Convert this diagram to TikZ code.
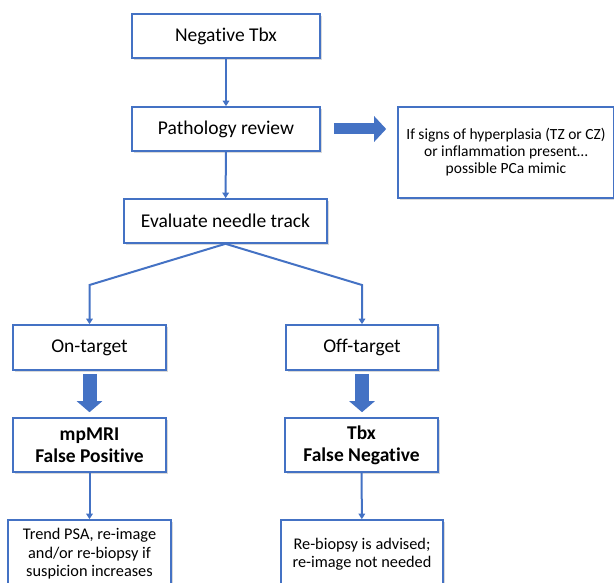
\documentclass[tikz,border=0pt]{standalone}
\usepackage{fontspec}
\setmainfont{Carlito}[Ligatures={NoCommon}]
\usepackage{tikz}
\usetikzlibrary{arrows.meta,shadows}
\definecolor{boxblue}{RGB}{68,114,196}

\begin{document}
\begin{tikzpicture}[x=1pt,y=-1pt,
    stepbox/.style={draw=boxblue, line width=1.6pt, fill=white, inner sep=0pt,
      align=center, font=\fontsize{19.5}{22}\selectfont,
      drop shadow={shadow xshift=1.6pt, shadow yshift=-1.6pt, opacity=0.3}},
    notebox/.style={stepbox, font=\fontsize{15.5}{17}\selectfont},
    thinarrow/.style={draw=boxblue, line width=2pt, -{Triangle[width=6.5pt,length=5.5pt]}},
    fatarrow/.style={draw=boxblue, line width=14pt, -{Triangle[width=25pt,length=11pt]}}]
        \useasboundingbox (0,0) rectangle (614,583);
        % main column
        \node[stepbox, minimum width=188, minimum height=44] (neg) at (226,36) {Negative Tbx};
        \node[stepbox, minimum width=188, minimum height=44] (path) at (226,129) {Pathology review};
        \node[notebox, minimum width=216, minimum height=91] (hyper) at (506,152.5)
          {If signs of hyperplasia (TZ or CZ)\\or inflammation present\dots\\possible PCa mimic};
        \node[stepbox, minimum width=203, minimum height=44] (eval) at (225.5,221) {Evaluate needle track};
        % two branches
        \node[stepbox, minimum width=153, minimum height=45] (on) at (89.5,347.5) {On-target};
        \node[stepbox, minimum width=152, minimum height=45] (off) at (362,347.5) {Off-target};
        \node[stepbox, minimum width=153, minimum height=54, font=\fontsize{19.5}{22}\selectfont\bfseries] (mp) at (89.5,445) {mpMRI\\False Positive};
        \node[stepbox, minimum width=153, minimum height=54, font=\fontsize{19.5}{22}\selectfont\bfseries] (tbx) at (361.5,445) {Tbx\\False Negative};
        \node[notebox, minimum width=163, minimum height=68, font=\fontsize{16.3}{18.5}\selectfont] (trend) at (89.5,554)
          {Trend PSA, re-image\\and/or re-biopsy if\\suspicion increases};
        \node[notebox, minimum width=162, minimum height=68, font=\fontsize{16.3}{18.5}\selectfont] (rebio) at (362,554)
          {Re-biopsy is advised;\\re-image not needed};
        % connectors
        \draw[thinarrow] (neg) -- (path);
        \draw[thinarrow] (path) -- (eval);
        \draw[thinarrow] (eval.south) -- (89.5,285) -- (on.north);
        \draw[thinarrow] (eval.south) -- (362,285) -- (off.north);
        \draw[thinarrow] (mp) -- (trend);
        \draw[thinarrow] (tbx) -- (rebio);
        \draw[fatarrow, line width=11pt, -{Triangle[width=25pt,length=12pt]}, shorten <=13pt, shorten >=11pt] (path.east) -- (hyper.west |- path.east);
        \draw[fatarrow, shorten <=3pt, shorten >=5pt] (on.south) -- (mp.north);
        \draw[fatarrow, shorten <=3pt, shorten >=5pt] (off.south) -- (tbx.north -| off.south);
      \end{tikzpicture}
\end{document}
